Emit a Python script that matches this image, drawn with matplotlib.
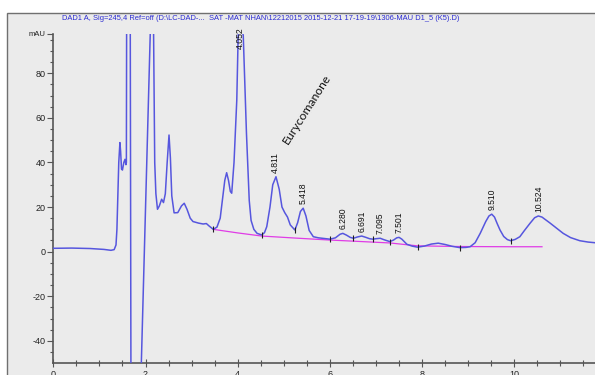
import matplotlib
matplotlib.use('Agg')
import matplotlib.pyplot as plt
from matplotlib.patches import Rectangle
from matplotlib.ticker import MultipleLocator

# ---- data ----
trace_t = [0.00, 0.40, 0.80, 1.10, 1.25, 1.32, 1.36, 1.38, 1.40, 1.42, 1.445, 1.46, 1.48, 1.50,
           1.53, 1.555, 1.575, 1.585, 1.595, 1.665, 1.69, 1.80, 1.87, 2.12, 2.15, 2.17, 2.20,
           2.225, 2.26, 2.30, 2.35, 2.39, 2.43, 2.47, 2.51, 2.54, 2.57, 2.62, 2.70, 2.78, 2.84,
           2.90, 2.97, 3.03, 3.15, 3.25, 3.32, 3.38, 3.47, 3.55, 3.62, 3.68, 3.72, 3.76, 3.80,
           3.84, 3.87, 3.92, 3.98, 4.01, 4.06, 4.12, 4.19, 4.25, 4.29, 4.35, 4.42, 4.52, 4.58,
           4.63, 4.70, 4.76, 4.83, 4.90, 4.96, 5.02, 5.08, 5.14, 5.24, 5.30, 5.36, 5.42, 5.48,
           5.55, 5.64, 5.75, 5.88, 6.00, 6.12, 6.22, 6.28, 6.36, 6.44, 6.51, 6.60, 6.69, 6.78,
           6.86, 6.93, 7.00, 7.09, 7.18, 7.30, 7.38, 7.45, 7.50, 7.56, 7.67, 7.78, 7.90, 8.05,
           8.20, 8.35, 8.50, 8.65, 8.82, 8.95, 9.04, 9.15, 9.26, 9.38, 9.45, 9.51, 9.57, 9.63,
           9.69, 9.77, 9.85, 9.92, 10.02, 10.12, 10.22, 10.34, 10.44, 10.52, 10.60, 10.68, 10.77,
           10.90, 11.06, 11.22, 11.42, 11.60, 11.75]
trace_mau = [1.5, 1.6, 1.4, 1.0, 0.6, 0.9, 3.0, 10.0, 25.0, 40.0, 48.9, 45.0, 37.0, 36.6,
             40.0, 41.4, 39.0, 40.0, 150.0, 150.0, -120.0, -150.0, -80.0, 110.0, 140.0, 110.0, 40.0,
             26.0, 19.0, 20.5, 23.5, 22.0, 26.0, 40.0, 52.3, 42.0, 25.0, 17.4, 17.5, 20.5, 21.7,
             19.0, 15.0, 13.5, 12.8, 12.4, 12.6, 11.5, 10.0, 11.0, 15.0, 25.0, 32.0, 35.4, 32.0,
             27.0, 26.2, 40.0, 68.0, 97.0, 102.0, 97.0, 53.0, 23.0, 14.0, 10.0, 8.2, 7.5, 8.5,
             11.2, 20.0, 30.0, 33.6, 28.0, 20.0, 17.5, 15.5, 12.0, 9.7, 13.0, 18.0, 19.5, 16.0,
             9.5, 6.7, 6.2, 5.9, 5.6, 6.2, 7.8, 8.2, 7.4, 6.4, 6.0, 6.6, 7.0, 6.4,
             5.8, 5.6, 5.8, 6.0, 5.3, 4.5, 5.2, 6.2, 6.4, 5.6, 3.3, 2.5, 2.0, 2.5,
             3.4, 3.8, 3.2, 2.4, 1.8, 1.9, 2.2, 4.0, 8.2, 13.5, 16.0, 16.8, 15.5, 12.5,
             9.7, 6.8, 5.4, 4.9, 5.5, 6.7, 9.5, 12.7, 15.2, 16.0, 15.5, 14.3, 12.9,
             10.8, 8.2, 6.3, 4.9, 4.3, 4.0]

base_t = [3.47, 4.00, 4.52, 5.24, 6.00, 6.51, 7.30, 7.90, 8.82, 9.92, 10.60]
base_mau = [10.0, 8.4, 7.0, 6.1, 5.2, 4.7, 3.9, 2.6, 2.3, 2.2, 2.2]

mark_t = [3.47, 4.52, 5.24, 6.00, 6.51, 6.93, 7.30, 7.90, 8.82, 9.92]
mark_mau = [10.0, 7.5, 9.7, 5.6, 6.0, 5.6, 4.5, 2.0, 1.8, 4.9]

peak_rt = [4.052, 4.811, 5.418, 6.280, 6.691, 7.095, 7.501, 9.510, 10.524]
peak_mau = [89.0, 33.6, 19.5, 8.2, 7.0, 6.0, 6.4, 16.8, 16.0]
peak_labels = ["4.052", "4.811", "5.418", "6.280", "6.691", "7.095", "7.501", "9.510", "10.524"]

y_major = [-40, -20, 0, 20, 40, 60, 80]
x_major = [0, 2, 4, 6, 8, 10]

title = ("DAD1 A, Sig=245,4 Ref=off (D:\\LC-DAD-...  SAT -MAT NHAN\\12212015 "
         "2015-12-21 17-19-19\\1306-MAU D1_5 (K5).D)")

# ---- figure ----
W, H = 595, 375
fig = plt.figure(figsize=(W / 100, H / 100), dpi=100)
fig.patch.set_facecolor('white')
fig.patches.append(Rectangle((7 / W, -0.02), 1.0, 1 - 13 / H + 0.02, transform=fig.transFigure,
                             facecolor='#ebebeb', edgecolor='#707070', lw=1.0, zorder=-10))

ax = fig.add_axes([53.3 / W, 12.3 / H, 1 - 53.3 / W, (362.7 - 34) / H])
ax.set_zorder(5)
ax.set_facecolor('none')
ax.set_xlim(0, 11.75)
ax.set_ylim(-49.8, 97.6)

ax.plot(trace_t, trace_mau, color='#5656de', lw=1.1, zorder=3)
ax.plot(base_t, base_mau, color='#e03ce6', lw=0.9, zorder=2)
ax.plot(mark_t, mark_mau, linestyle='none', marker='|', color='#202020', ms=5, mew=0.8, zorder=4)

for rt, h, lab in zip(peak_rt, peak_mau, peak_labels):
    ax.annotate(lab, (rt, h), xytext=(0, 3), textcoords='offset points', rotation=90,
                ha='center', va='bottom', fontsize=6.2, family='Liberation Sans',
                color='#111111', annotation_clip=False, zorder=5)

ax.text(5.50, 64.0, "Eurycomanone", rotation=57.6, ha='center', va='center',
        fontsize=8.8, family='Lato', color='#111111', rotation_mode='anchor')

fig.text(62 / W, 1 - 18 / H, title, color='#2a2ad2', fontsize=5.38, family='Liberation Sans',
         va='center', ha='left')

for s in ['top', 'right']:
    ax.spines[s].set_visible(False)
for s in ['left', 'bottom']:
    ax.spines[s].set_color('#555555')
    ax.spines[s].set_linewidth(1.2)

ax.set_yticks(y_major + [97.6])
ax.set_yticklabels([str(v) for v in y_major] + ['mAU'])
ax.yaxis.set_minor_locator(MultipleLocator(5))
ax.set_xticks(x_major)
ax.set_xticklabels([str(v) for v in x_major])
ax.xaxis.set_minor_locator(MultipleLocator(0.5))
ax.tick_params(axis='y', which='major', direction='out', length=4, width=0.8, color='#555555',
               labelsize=6.5, pad=1.5, labelcolor='#222222')
ax.tick_params(axis='y', which='minor', direction='out', length=2.5, width=0.8, color='#555555')
ax.tick_params(axis='x', which='major', direction='inout', length=6, width=0.8, color='#555555',
               labelsize=6.5, pad=2, labelcolor='#222222')
ax.tick_params(axis='x', which='minor', direction='inout', length=4, width=0.8, color='#555555')
for lab in ax.get_xticklabels() + ax.get_yticklabels():
    lab.set_family('Liberation Sans')
ax.get_yticklabels()[-1].set_fontsize(5.5)

fig.savefig('out.png', dpi=100)
